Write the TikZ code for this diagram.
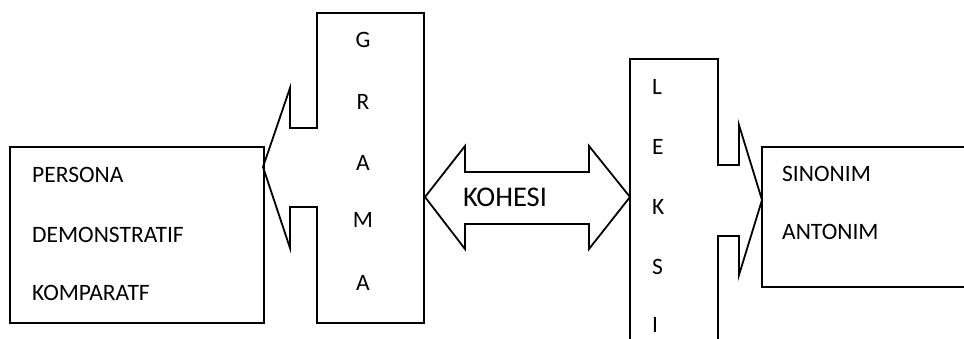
\documentclass[tikz,border=0pt]{standalone}
\usepackage{fontspec}
\setmainfont{Carlito}

\begin{document}
\begin{tikzpicture}[x=1pt, y=-1pt,
        garis/.style={line width=1.8pt},
        teks/.style={font=\fontsize{23.5}{28}\selectfont, inner sep=0pt},
        teksbesar/.style={font=\fontsize{28.5}{34}\selectfont, inner sep=0pt}]
            %\draw[lightgray] (0, 0) grid[step=50] (964, 339);
            \useasboundingbox (0, 0) rectangle (964, 339);
            \clip (0, 0) rectangle (964, 339);

            % kotak kiri
            \draw[garis] (10, 147) rectangle (264, 323);
            \node[teks, anchor=west] (persona) at (32, 175) {PERSONA};
            \node[teks, anchor=west] (demonstratif) at (32, 235) {DEMONSTRATIF};
            \node[teks, anchor=west] (komparatf) at (32, 293) {KOMPARATF};

            % GRAMA
            \draw[garis] (317, 128) -- (317, 13) -- (424, 13) -- (424, 323) -- (317, 323) -- (317, 207)
                -- (290, 207) -- (290, 248) -- (263, 167) -- (290, 88) -- (290, 128) -- cycle;
            \node[teks] (g) at (363, 40) {G};
            \node[teks] (r) at (363, 102) {R};
            \node[teks] (a1) at (363, 163) {A};
            \node[teks] (m) at (363, 220) {M};
            \node[teks] (a2) at (363, 283) {A};

            % KOHESI
            \draw[garis] (425, 197) -- (465, 146) -- (465, 172) -- (589, 172) -- (589, 146) -- (630, 197)
                -- (589, 249) -- (589, 224) -- (465, 224) -- (465, 249) -- cycle;
            \node[teksbesar] (kohesi) at (505, 197) {KOHESI};

            % LEKSI
            \draw[garis] (718, 165) -- (739, 165) -- (739, 125) -- (762, 200) -- (739, 275) -- (739, 236)
                -- (718, 236) -- (718, 360) -- (630, 360) -- (630, 59) -- (718, 59) -- cycle;
            \node[teks, anchor=west] (l) at (652, 87) {L};
            \node[teks, anchor=west] (e) at (652, 147) {E};
            \node[teks, anchor=west] (k) at (652, 207) {K};
            \node[teks, anchor=west] (s) at (652, 267) {S};
            \node[teks, anchor=west] (i) at (652, 325) {I};

            % kotak kanan
            \draw[garis] (762, 147) rectangle (990, 287);
            \node[teks, anchor=west] (sinonim) at (782, 174) {SINONIM};
            \node[teks, anchor=west] (antonim) at (782, 232) {ANTONIM};
        \end{tikzpicture}
\end{document}
